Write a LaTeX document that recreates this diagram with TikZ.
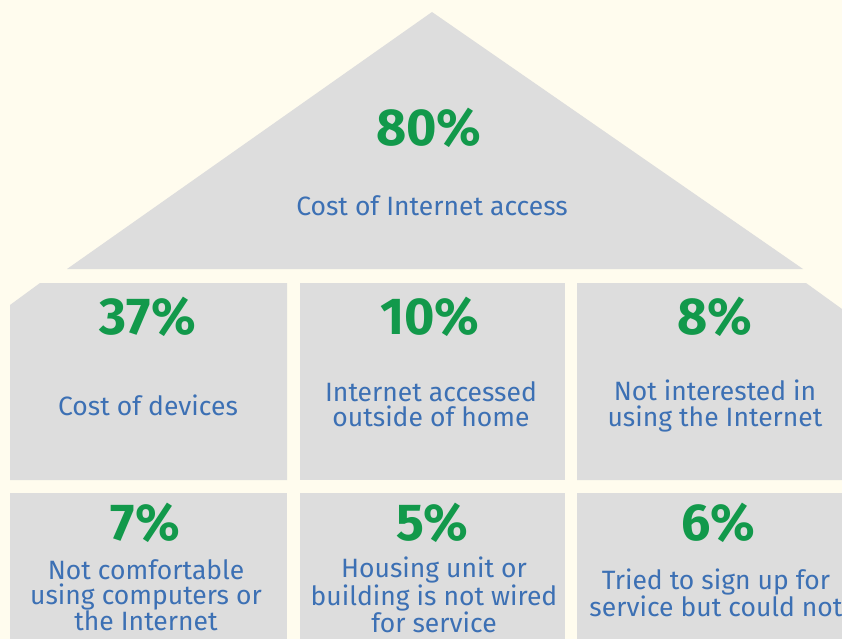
\documentclass[tikz,border=0pt]{standalone}
\usepackage{fontspec}
\setmainfont{Fira Sans}
\definecolor{cream}{HTML}{FFFCEE}
\definecolor{wallgray}{HTML}{DDDDDD}
\definecolor{pctgreen}{HTML}{12994B}
\definecolor{lblblue}{HTML}{3C70B4}

\begin{document}
\begin{tikzpicture}[x=1pt, y=-1pt,
                    pct/.style={text=pctgreen,font=\fontsize{52}{52}\selectfont\bfseries},
                    lbl/.style={text=lblblue,align=center,font=\fontsize{26.5}{25.5}\selectfont}]

  \useasboundingbox (0,0) rectangle (842,639);
  \fill[cream] (0,0) rectangle (842,639);

  % roof and walls
  \fill[wallgray] (432,12) -- (803,269) -- (67,269) -- cycle;
  \fill[wallgray] (40,283) -- (287,283) -- (287,480) -- (10,480) -- (10,305) -- cycle;
  \fill[wallgray] (300,283) rectangle (565,480);
  \fill[wallgray] (577,283) -- (806,283) -- (842,309) -- (842,480) -- (577,480) -- cycle;
  \fill[wallgray] (10,493) rectangle (287,639);
  \fill[wallgray] (300,493) rectangle (565,639);
  \fill[wallgray] (577,493) rectangle (842,639);

  \node[pct] (roofpct) at (429,128) {80\%};
  \node[lbl] (roof) at (432,206) {Cost of Internet access};

  \node[pct] (devpct) at (148,317) {37\%};
  \node[lbl] (dev) at (148,405) {Cost of devices};
    \node[pct] (outpct) at (430,317) {10\%};
    \node[lbl] (out) at (431,404) {Internet accessed\\outside of home};
      \node[pct] (intpct) at (715,317) {8\%};
      \node[lbl] (int) at (715,406) {Not interested in\\using the Internet};

  \node[pct] (comfpct) at (145,523) {7\%};
  \node[lbl] (comf) at (146,595) {Not comfortable\\using computers or\\the Internet};
    \node[pct] (wirepct) at (432,523) {5\%};
    \node[lbl] (wire) at (434,595) {Housing unit or\\building is not wired\\for service};
      \node[pct] (signpct) at (718,523) {6\%};
      \node[lbl] (sign) at (716,593) {Tried to sign up for\\service but could not};

\end{tikzpicture}
\end{document}
